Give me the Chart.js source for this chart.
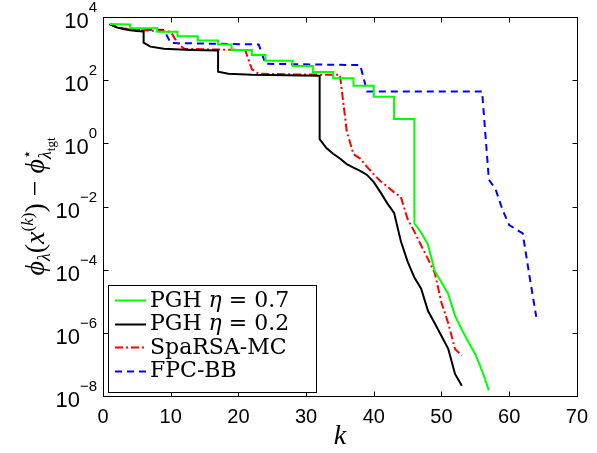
<!DOCTYPE html>
<html>
<head>
<meta charset="utf-8">
<script src="https://cdn.jsdelivr.net/npm/chart.js@4/dist/chart.umd.min.js"></script>
<style>
  html, body { margin: 0; padding: 0; background: #fff; }
</style>
</head>
<body>
<canvas id="c" width="597" height="453"></canvas>
<script>
"use strict";

// PGH eta = 0.7 (green) - stairs then tail
const kGreen = [1, 4, 4, 8, 8, 11, 11, 14, 14, 17, 17, 19, 19, 22, 22, 24, 24, 28, 28, 31, 31,
                34, 34, 37, 37, 40, 40, 43, 43, 46, 46, 47, 48, 49, 50, 51, 52, 53, 54, 55, 56, 57];
const greenVals = [6.0e3, 5.75e3, 4.4e3, 4.4e3, 3.4e3, 3.4e3, 2.45e3, 2.45e3, 1.8e3, 1.8e3, 1.35e3,
                   1.35e3, 9.1e2, 9.1e2, 6.3e2, 6.3e2, 4.1e2, 4.1e2, 2.8e2, 2.8e2, 1.8e2, 1.8e2,
                   1.15e2, 1.15e2, 66, 66, 30, 30, 5.9, 5.9, 2.9e-3, 1.5e-3, 6.3e-4, 9.1e-5, 4.0e-5,
                   1.7e-5, 3.5e-6, 1.26e-6, 5.0e-7, 2.1e-7, 6.3e-8, 1.5e-8];

// PGH eta = 0.2 (black)
const kBlack = [1, 2, 3, 4, 5, 6, 6, 7, 9, 13, 17, 17, 18.5, 22, 32, 32, 33, 34, 35, 36, 37, 38,
                39, 40, 41, 42, 43, 44, 45, 46, 47, 48, 49, 50, 51, 52, 53];
const blackVals = [6.0e3, 4.7e3, 4.2e3, 3.8e3, 3.6e3, 3.5e3, 1.55e3, 1.15e3, 9.8e2, 9.1e2, 8.7e2,
                   1.86e2, 1.6e2, 1.48e2, 1.38e2, 1.35, 0.71, 0.47, 0.33, 0.22, 0.17, 0.135, 0.10,
                   0.059, 0.028, 0.0126, 6.3e-3, 7.9e-4, 1.8e-4, 5.6e-5, 2.5e-5, 5.0e-6, 2.0e-6,
                   7.9e-7, 3.1e-7, 5.0e-8, 2.1e-8];

// SpaRSA-MC (red)
const kRed = [1, 2, 3, 4, 6, 8, 10, 11, 12, 16, 21, 22, 23, 28, 35, 36, 37, 38, 39, 40, 41, 42,
              43, 44, 45, 46, 47, 48, 49, 50, 51, 52, 53];
const redVals = [6.0e3, 4.8e3, 4.3e3, 4.0e3, 3.8e3, 3.6e3, 3.45e3, 1.5e3, 9.8e2, 9.4e2, 9.0e2,
                 2.2e2, 1.6e2, 1.52e2, 1.48e2, 2.5, 0.45, 0.33, 0.18, 0.105, 0.063, 0.043, 0.028,
                 0.02, 4.0e-3, 1.6e-3, 5.8e-4, 2.2e-4, 8e-5, 9e-6, 2.0e-6, 3.1e-7, 1.9e-7];

// FPC-BB (blue)
const kBlue = [1, 2, 3, 5, 9, 10, 23, 24, 38, 39, 56, 57, 58, 59, 60, 61, 62, 63, 64];
const blueVals = [6.0e3, 4.8e3, 4.3e3, 4.0e3, 3.9e3, 1.5e3, 1.35e3, 3.3e2, 3.0e2, 44, 44, 0.071,
                  0.035, 8e-3, 2.6e-3, 1.9e-3, 1.4e-3, 6.3e-5, 3.2e-6];

const xTicks = [0, 10, 20, 30, 40, 50, 60, 70];
const yTicks = [1e-8, 1e-6, 1e-4, 1e-2, 1e0, 1e2, 1e4];

const SERIF = '"Liberation Serif", "DejaVu Serif", serif';
const WIDE_SERIF = '"DejaVu Serif", "Liberation Serif", serif';
const SANS = '"Liberation Sans", Arial, sans-serif';

function pairs(ks, vs) {
    return ks.map((k, i) => ({ x: k, y: vs[i] }));
}

// draw a list of text runs [text, font, dy, advance?] starting at x
function drawRuns(ctx, runs, x, y) {
    let cx = x;
    runs.forEach(r => {
        ctx.font = r[1];
        ctx.fillText(r[0], cx, y + (r[2] || 0));
        if (r[3] !== false) cx += ctx.measureText(r[0]).width;
    });
    return cx;
}
function runsWidth(ctx, runs) {
    let w = 0;
    runs.forEach(r => {
        ctx.font = r[1];
        if (r[3] !== false) w += ctx.measureText(r[0]).width;
    });
    return w;
}

const decor = {
    id: 'decor',
    afterDraw(chart) {
        const ctx = chart.ctx, a = chart.chartArea;
        const xs = chart.scales.x, ys = chart.scales.y;
        const L = Math.round(a.left) + 0.5, R = Math.round(a.right) + 0.5;
        const T = Math.round(a.top) + 0.5, B = Math.round(a.bottom) + 0.5;
        ctx.save();
        ctx.strokeStyle = '#000';
        ctx.fillStyle = '#000';
        ctx.lineWidth = 1;

        // axes box
        ctx.strokeRect(L, T, R - L, B - T);

        // inward ticks, all four sides
        ctx.beginPath();
        xTicks.forEach(v => {
            const px = Math.round(xs.getPixelForValue(v)) + 0.5;
            ctx.moveTo(px, B); ctx.lineTo(px, B - 5);
            ctx.moveTo(px, T); ctx.lineTo(px, T + 5);
        });
        yTicks.forEach(v => {
            const py = Math.round(ys.getPixelForValue(v)) + 0.5;
            ctx.moveTo(L, py); ctx.lineTo(L + 5, py);
            ctx.moveTo(R, py); ctx.lineTo(R - 5, py);
        });
        ctx.stroke();

        // y tick labels: 10 with exponent
        yTicks.forEach(v => {
            const py = ys.getPixelForValue(v);
            const e = Math.round(Math.log10(v));
            const exp = (e < 0 ? '\u2212' : '') + Math.abs(e);
            ctx.font = '15px ' + SANS;
            const ew = ctx.measureText(exp).width;
            const x0 = a.left - 6 - ew;
            ctx.textAlign = 'left';
            ctx.textBaseline = 'alphabetic';
            ctx.fillText(exp, x0, py - 5);
            ctx.font = '22px ' + SANS;
            ctx.textAlign = 'right';
            ctx.fillText('10', x0, py + 11);
        });

        // x axis title
        ctx.textAlign = 'center';
        ctx.textBaseline = 'alphabetic';
        ctx.font = 'italic 28px ' + SERIF;
        ctx.fillText('k', (a.left + a.right) / 2, 444);

        // y axis title, rotated
        ctx.textAlign = 'left';
        const it = s => 'italic ' + s + 'px ' + SERIF;
        const rm = s => s + 'px ' + SERIF;
        const yRuns = [
            ['\u03D5', it(28), 0], ['\u03BB', it(18), 6],
            ['(', rm(28), 0], ['x', it(28), 0],
            ['(', rm(17), -11], ['k', it(17), -11], [')', rm(17), -11],
            [')', rm(28), 0], [' \u2212 ', rm(28), 0],
            ['\u03D5', it(28), 0], ['\u22C6', rm(15), -12, false],
            ['\u03BB', it(18), 7], ['tgt', rm(13), 11]
        ];
        ctx.save();
        ctx.translate(44, (a.top + a.bottom) / 2);
        ctx.rotate(-Math.PI / 2);
        const w = runsWidth(ctx, yRuns);
        drawRuns(ctx, yRuns, -w / 2, 0);
        ctx.restore();

        // legend box, bottom-left inside the axes
        const lx = 108.5, ly = 285.5, lw = 208, lh = 107;
        ctx.fillStyle = '#fff';
        ctx.fillRect(lx, ly, lw, lh);
        ctx.strokeStyle = '#000';
        ctx.strokeRect(lx, ly, lw, lh);
        const lr = '22px ' + WIDE_SERIF, li = 'italic 22px ' + WIDE_SERIF;
        const entries = [
            [['PGH ', lr], ['\u03B7', li], [' = 0.7', lr]],
            [['PGH ', lr], ['\u03B7', li], [' = 0.2', lr]],
            [['SpaRSA-MC', lr]],
            [['FPC-BB', lr]]
        ];
        entries.forEach((runs, i) => {
            const ds = chart.data.datasets[i];
            const cy = 300 + i * 23.5;
            ctx.save();
            ctx.strokeStyle = ds.borderColor;
            ctx.lineWidth = ds.borderWidth;
            ctx.setLineDash(ds.borderDash || []);
            ctx.beginPath();
            ctx.moveTo(115, Math.round(cy) + 0.5);
            ctx.lineTo(146, Math.round(cy) + 0.5);
            ctx.stroke();
            ctx.restore();
            ctx.fillStyle = '#000';
            ctx.textBaseline = 'middle';
            drawRuns(ctx, runs, 150, cy + 1);
        });
        ctx.restore();
    }
};

new Chart(document.getElementById('c'), {
    type: 'line',
    data: {
        datasets: [
            { label: 'PGH \u03B7 = 0.7', data: pairs(kGreen, greenVals), borderColor: '#00ff00', borderWidth: 2 },
            { label: 'PGH \u03B7 = 0.2', data: pairs(kBlack, blackVals), borderColor: '#000000', borderWidth: 2 },
            { label: 'SpaRSA-MC', data: pairs(kRed, redVals), borderColor: '#ff0000', borderWidth: 2, borderDash: [8, 3, 2, 3] },
            { label: 'FPC-BB', data: pairs(kBlue, blueVals), borderColor: '#0000ff', borderWidth: 2, borderDash: [7, 5] }
        ]
    },
    options: {
        responsive: false,
        animation: false,
        devicePixelRatio: 1,
        layout: { padding: { top: 17, right: 13, left: 0, bottom: 0 } },
        elements: { point: { radius: 0 }, line: { tension: 0 } },
        plugins: { legend: { display: false }, tooltip: { enabled: false } },
        scales: {
            x: {
                type: 'linear',
                min: 0,
                max: 70,
                afterBuildTicks(s) { s.ticks = xTicks.map(v => ({ value: v })); },
                afterFit(s) { s.height = 57; },
                grid: { display: false, drawTicks: false },
                border: { display: false },
                ticks: { color: '#000', font: { size: 20, family: SANS }, padding: 9, maxRotation: 0 }
            },
            y: {
                type: 'logarithmic',
                min: 1e-8,
                max: 1e4,
                afterBuildTicks(s) { s.ticks = yTicks.map(v => ({ value: v })); },
                afterFit(s) { s.width = 103; },
                grid: { display: false, drawTicks: false },
                border: { display: false },
                ticks: { callback: () => '' }
            }
        }
    },
    plugins: [decor]
});
</script>
</body>
</html>
